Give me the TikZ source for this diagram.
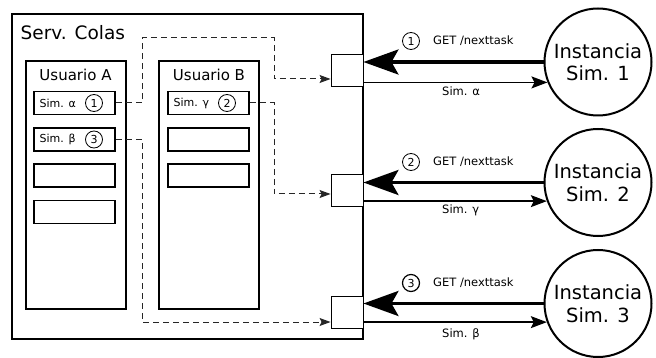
\documentclass[tikz,border=0pt]{standalone}
\usepackage{fontspec}
\setmainfont{DejaVu Sans}
\usetikzlibrary{arrows.meta,calc}
\begin{document}
\begin{tikzpicture}[x=1pt,y=-1pt,
  outerbox/.style={draw, line width=1.5pt, minimum width=351pt, minimum height=325pt, inner sep=0},
  userbox/.style={draw, line width=2pt, minimum width=100pt, minimum height=248pt, inner sep=0},
  simbox/.style={draw, line width=1.8pt, minimum width=81pt, minimum height=23pt, inner sep=0},
  sqbox/.style={draw, line width=0.9pt, minimum size=32pt, inner sep=0, fill=white},
  inst/.style={circle, draw, line width=2pt, minimum size=107pt, inner sep=0, align=center,
    font=\fontsize{19.5}{22.5}\selectfont},
  num/.style={circle, draw, line width=0.8pt, minimum size=17pt, inner sep=0, font=\fontsize{11}{11}\selectfont},
  lbl/.style={font=\fontsize{11}{13}\selectfont, inner sep=0},
  elbl/.style={font=\fontsize{11.5}{13}\selectfont, inner sep=0},
  dasharr/.style={draw=black!85, line width=1pt, dash pattern=on 6pt off 4pt,
    -{Stealth[length=11pt,width=8pt,inset=2pt]}},
  thickarr/.style={line width=3.5pt, -{Stealth[length=35pt,width=25pt,inset=7pt]}},
  thinarr/.style={line width=1.3pt, -{Stealth[length=16pt,width=12pt,inset=3pt]}}
]
\useasboundingbox (0,0) rectangle (656,358);

% server box
\node[outerbox] (serv) at (187.5,176.5) {};
\node[anchor=base west, inner sep=0, font=\fontsize{18.5}{20}\selectfont] (servt) at (20.5,40) {Serv. Colas};

% users
\node[userbox] (ua) at (75.5,185) {};
\node[userbox] (ub) at (209,185) {};
\node[anchor=base, inner sep=0, font=\fontsize{15}{17}\selectfont] (uat) at (75.5,81) {Usuario A};
\node[anchor=base, inner sep=0, font=\fontsize{15}{17}\selectfont] (ubt) at (209,81) {Usuario B};

% simulation boxes
\node[simbox] (sa) at (74.5,103) {};
\node[simbox] (sb) at (74.5,139.5) {};
\node[simbox] (sa3) at (74.5,175.5) {};
\node[simbox] (sa4) at (74.5,212) {};
\node[simbox] (sg) at (208.5,103) {};
\node[simbox] (sb2) at (208.5,139.5) {};
\node[simbox] (sb3) at (208.5,175.5) {};

\node[lbl, anchor=west] (sat) at (39.5,103) {Sim. α};
\node[num] (ca) at (94,103) {1};
\node[lbl, anchor=west] (sbt) at (39.5,139.5) {Sim. β};
\node[num] (cb) at (94,139.5) {3};
\node[lbl, anchor=west] (sgt) at (173.5,103) {Sim. γ};
\node[num] (cg) at (227,103) {2};

% squares
\node[sqbox] (sq1) at (347,70) {};
\node[sqbox] (sq2) at (347,190) {};
\node[sqbox] (sq3) at (347,312) {};

% instances
\node[inst] (c1) at (598,62) {Instancia\\Sim. 1};
\node[inst] (c2) at (598,182.5) {Instancia\\Sim. 2};
\node[inst] (c3) at (598,303.5) {Instancia\\Sim. 3};

% dashed connections
\coordinate (a1) at (142,38);
\coordinate (a2) at (274,79);
\draw[dasharr] (sa.east) -| (a1) -| (a2) -- (sq1.west |- a2);
\coordinate (g1) at (274,194);
\draw[dasharr] (sg.east) -| (g1) -- (sq2.west |- g1);
\coordinate (b1) at (142,322);
\draw[dasharr] (sb.east) -| (b1) -- (sq3.west |- b1);

% instance arrows
\draw[thickarr] (c1.west) -- (sq1.east |- c1.west);
\draw[thinarr] (sq1.east |- c1.202) -- (c1.202);
\draw[thickarr] (c2.west) -- (sq2.east |- c2.west);
\draw[thinarr] (sq2.east |- c2.200) -- (c2.200);
\draw[thickarr] (c3.west) -- (sq3.east |- c3.west);
\draw[thinarr] (sq3.east |- c3.200) -- (c3.200);

% labels
\node[num] (n1) at (411,41) {1};
\node[elbl, anchor=west] (g1t) at (433,41) {GET /nexttask};
\node[elbl, anchor=base west] (s1t) at (442,95.5) {Sim. α};
\node[num] (n2) at (411,162) {2};
\node[elbl, anchor=west] (g2t) at (433,162) {GET /nexttask};
\node[elbl, anchor=base west] (s2t) at (442,213.5) {Sim. γ};
\node[num, line width=1.2pt] (n3) at (411,283) {3};
\node[elbl, anchor=west] (g3t) at (433,283) {GET /nexttask};
\node[elbl, anchor=base west] (s3t) at (442,337) {Sim. β};
\end{tikzpicture}
\end{document}
